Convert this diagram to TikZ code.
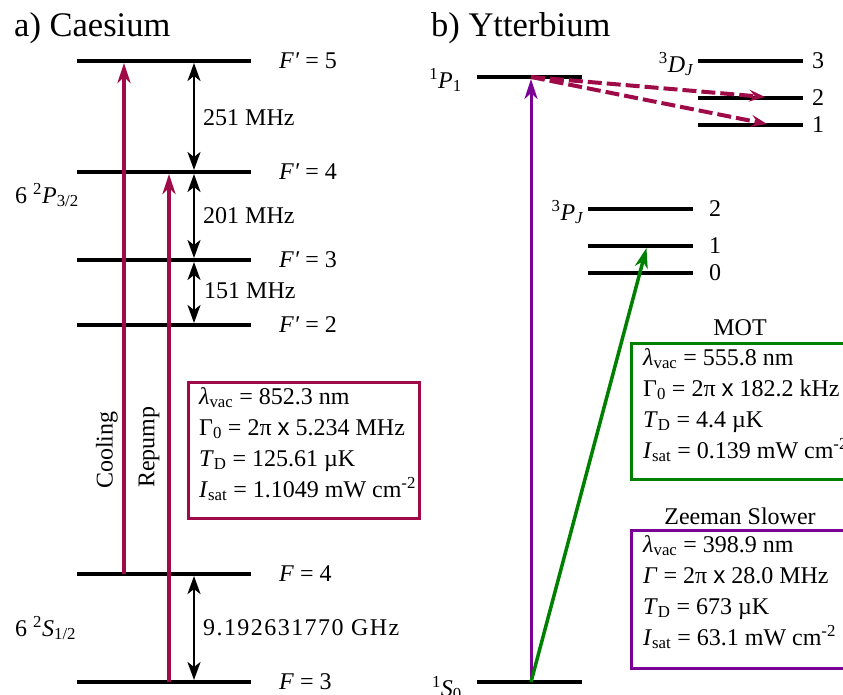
\documentclass[tikz,border=0pt]{standalone}
\usepackage{fontspec}
\setmainfont{Liberation Serif}
\newfontfamily\xsans{Liberation Sans}
\usetikzlibrary{arrows.meta}
\usepackage{xcolor}
\definecolor{crimson}{RGB}{158,11,72}
\definecolor{violetline}{RGB}{122,0,150}
\definecolor{greenline}{RGB}{0,128,0}

\begin{document}
\begin{tikzpicture}[x=1pt,y=-1pt,
  level/.style={line width=4pt},
  lab/.style={font=\fontsize{24}{29}\selectfont,inner sep=0pt},
  infotext/.style={font=\fontsize{24}{31}\selectfont,align=left,inner sep=0pt,anchor=north west},
  title/.style={font=\fontsize{34.5}{40}\selectfont,inner sep=0pt,anchor=west},
  gap/.style={line width=2.5pt,{Stealth[length=18pt,width=13pt,inset=5pt]}-{Stealth[length=18pt,width=13pt,inset=5pt]},shorten <=2pt,shorten >=2pt},
  pump/.style={line width=3.5pt,-{Stealth[length=20pt,width=13pt,inset=6pt]},shorten >=2pt}]
\useasboundingbox (0,0) rectangle (843,694);
\clip (0,0) rectangle (843,694);

% ---------- a) Caesium ----------
\node[title] (titleA) at (14,28) {a) Caesium};
\foreach \y/\f in {61/5,172/4,260/3,325/2} {
  \draw[level] (77,\y) -- (251,\y);
  \node[lab,anchor=west] (csP\f) at (279,\y) {\textit{F′} = \f};
  \coordinate (gP\f) at (194,\y);
}
\foreach \y/\f in {574/4,682/3} {
  \draw[level] (77,\y) -- (251,\y);
  \node[lab,anchor=west] (csS\f) at (279,\y) {\textit{F} = \f};
  \coordinate (gS\f) at (194,\y);
}
\node[lab,anchor=west] (csP) at (15,195) {6 \textsuperscript{2}\textit{P}\textsubscript{3/2}};
\node[lab,anchor=west] (csS) at (15,628) {6 \textsuperscript{2}\textit{S}\textsubscript{1/2}};

% hyperfine splittings
\draw[gap] (gP5) -- (gP4);
\draw[gap] (gP4) -- (gP3);
\draw[gap] (gP3) -- (gP2);
\draw[gap] (gS4) -- (gS3);
\node[lab,anchor=west] (d54) at (203,118) {251 MHz};
\node[lab,anchor=west] (d43) at (203,216) {201 MHz};
\node[lab,anchor=west] (d32) at (204,291) {151 MHz};
\node[lab,anchor=west] (dS) at (203,628) {\addfontfeature{LetterSpace=6}9.192631770 GHz};

% cooling and repump
\coordinate (coolA) at (124,574);
\coordinate (coolB) at (124,61);
\coordinate (repA) at (169,682);
\coordinate (repB) at (169,172);
\draw[pump,crimson] (coolA) -- (coolB);
\draw[pump,crimson] (repA) -- (repB);
\node[lab,rotate=90] (coollab) at (107,450) {Cooling};
\node[lab,rotate=90] (replab) at (149,447) {Repump};

\draw[crimson,line width=3pt] (188,382) rectangle (419,518);
\node[infotext] (csinfo) at (199,387) {%
  \textit{λ}\textsubscript{vac} = 852.3 nm\\
  Γ\textsubscript{0} = 2π {\xsans x} 5.234 MHz\\
  \textit{T}\textsubscript{D} = 125.61 µK\\
  \textit{I}\textsubscript{sat} = 1.1049 mW cm\textsuperscript{-2}};

% ---------- b) Ytterbium ----------
\node[title] (titleB) at (431,28) {b) Ytterbium};
\draw[level] (477,77) -- (582,77);
\draw[level] (477,682) -- (582,682);
\node[lab,anchor=east] (P1) at (462,80) {\textsuperscript{1}\textit{P}\textsubscript{1}};
\node[lab,anchor=east] (S0) at (462,688) {\textsuperscript{1}\textit{S}\textsubscript{0}};
\foreach \y/\j in {61/3,98/2,125/1} {
  \draw[level] (698,\y) -- (803,\y);
  \node[lab,anchor=west] (D\j) at (812,\y) {\j};
}
\foreach \y/\j in {209/2,246/1,273/0} {
  \draw[level] (588,\y) -- (693,\y);
  \node[lab,anchor=west] (PJ\j) at (709,\y) {\j};
}
\node[lab,anchor=east] (DJ) at (694,64) {\textsuperscript{3}\textit{D}\textsubscript{\textit{J}}};
\node[lab,anchor=east] (PJ) at (584,212) {\textsuperscript{3}\textit{P}\textsubscript{\textit{J}}};

\coordinate (gnd) at (531,682);
\coordinate (up) at (531,77);
\coordinate (mot) at (647,246);
\coordinate (dtwo) at (765,97);
\coordinate (done) at (767,124);
\draw[pump,violetline,line width=3pt] (gnd) -- (up);
\draw[pump,greenline] (gnd) -- (mot);
\draw[crimson,line width=4pt,dash pattern=on 14pt off 5pt,-{Stealth[length=16pt,width=12pt,inset=6pt]}] (up) -- (dtwo);
\draw[crimson,line width=4pt,dash pattern=on 14pt off 5pt,-{Stealth[length=16pt,width=12pt,inset=6pt]}] (up) -- (done);

\node[lab] (motlab) at (740,328) {MOT};
\draw[greenline,line width=3pt] (631,343) rectangle (870,479);
\node[infotext] (motinfo) at (643,348) {%
  \textit{λ}\textsubscript{vac} = 555.8 nm\\
  Γ\textsubscript{0} = 2π {\xsans x} 182.2 kHz\\
  \textit{T}\textsubscript{D} = 4.4 µK\\
  \textit{I}\textsubscript{sat} = 0.139 mW cm\textsuperscript{-2}};

\node[lab] (zslab) at (740,516) {Zeeman Slower};
\draw[violetline,line width=3pt] (631,530) rectangle (870,668);
\node[infotext] (zsinfo) at (643,535) {%
  \textit{λ}\textsubscript{vac} = 398.9 nm\\
  \textit{Γ} = 2π {\xsans x} 28.0 MHz\\
  \textit{T}\textsubscript{D} = 673 µK\\
  \textit{I}\textsubscript{sat} = 63.1 mW cm\textsuperscript{-2}};
\end{tikzpicture}
\end{document}
